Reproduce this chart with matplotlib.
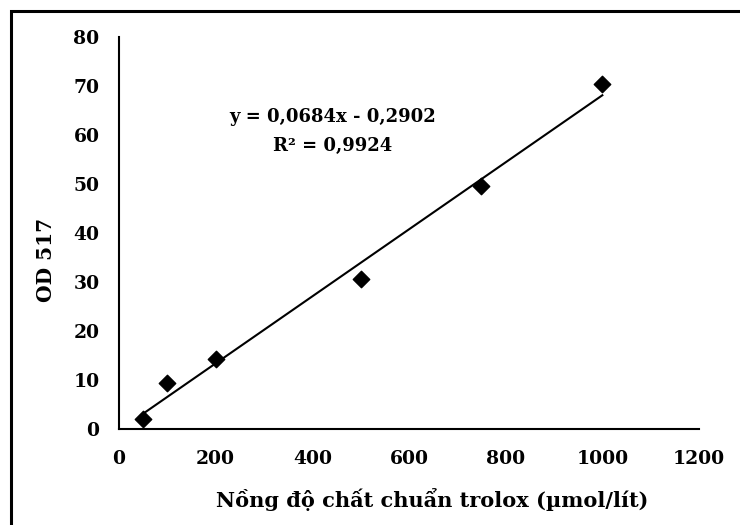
import numpy as np
import matplotlib
matplotlib.use("Agg")
import matplotlib.pyplot as plt
from matplotlib.patches import Rectangle

# nong do trolox (umol/lit) va OD 517
conc = [50, 100, 200, 500, 750, 1000]
od = [2.0, 9.3, 14.2, 30.7, 49.5, 70.5]
slope = 0.0684
intercept = -0.2902
x_ticks = [0, 200, 400, 600, 800, 1000, 1200]
y_ticks = [0, 10, 20, 30, 40, 50, 60, 70, 80]

plt.rcParams['font.family'] = ['DejaVu Serif']
plt.rcParams['font.weight'] = 'bold'

fig = plt.figure(figsize=(7.4, 5.25), dpi=100)
ax = fig.add_axes([0.1608, 0.1829, 0.7838, 0.7466])

# khung ngoai
fig.patches.append(Rectangle((11 / 740, -0.05), 1.1, 1 - 11 / 525 + 0.05,
                             transform=fig.transFigure, fill=False,
                             edgecolor='black', linewidth=2.2, zorder=0))

ax.scatter(conc, od, marker='D', s=70, color='black', zorder=3)
xs = np.array([min(conc), max(conc)])
ax.plot(xs, slope * xs + intercept, color='black', linewidth=1.5)

ax.text(441, 63.7, "y = 0,0684x - 0,2902", ha='center', va='center',
        fontsize=13, fontweight='bold')
ax.text(441, 57.8, "R² = 0,9924", ha='center', va='center',
        fontsize=13, fontweight='bold')

ax.set_xlim(0, 1200)
ax.set_ylim(0, 80)
ax.set_xticks(x_ticks)
ax.set_yticks(y_ticks)
ax.tick_params(length=0, labelsize=13.5)
ax.tick_params(axis='x', pad=15)
ax.tick_params(axis='y', pad=14)
for lab in ax.get_xticklabels() + ax.get_yticklabels():
    lab.set_fontweight('bold')

for s in ['top', 'right']:
    ax.spines[s].set_visible(False)
for s in ['left', 'bottom']:
    ax.spines[s].set_linewidth(1.5)

ax.set_xlabel("Nồng độ chất chuẩn trolox (µmol/lít)", fontsize=15,
              fontweight='bold')
ax.xaxis.set_label_coords(0.54, -0.15)
ax.set_ylabel("OD 517", fontsize=14.5, fontweight='bold')
ax.yaxis.set_label_coords(-0.108, 0.43)

fig.savefig("out.png", dpi=100)
